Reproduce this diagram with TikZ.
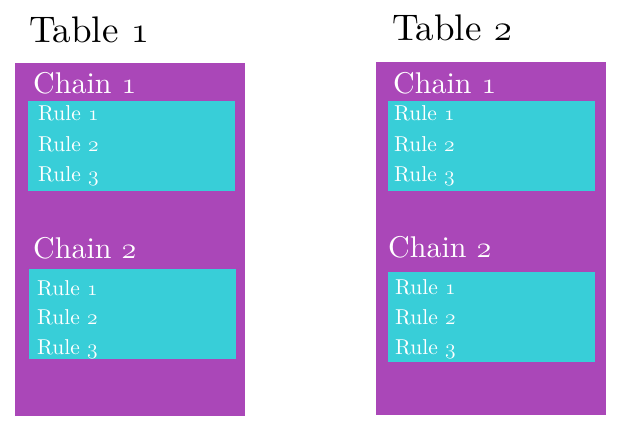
\documentclass[tikz,border=0pt]{standalone}
\usepackage{fix-cm}
\usepackage{fontspec}
\setmainfont{lmroman10-regular.otf}
\usepackage{xcolor}
\usepackage{tikz}
\usetikzlibrary{positioning}
\definecolor{tblpurple}{HTML}{AA47B8}
\definecolor{rulecyan}{HTML}{38CED8}
\newcommand{\osn}[1]{{\usefont{OML}{cmm}{m}{it}#1}}

\begin{document}
\begin{tikzpicture}[x=1pt, y=-1pt,
    tbl box/.style={fill=tblpurple, anchor=north west, inner sep=0pt, minimum width=230pt, minimum height=353pt},
    rule box/.style={fill=rulecyan, anchor=north west, inner sep=0pt, minimum width=207pt, minimum height=90pt},
    tbl label/.style={anchor=base west, inner sep=0pt, font=\fontsize{37}{42}\selectfont},
    chain label/.style={anchor=base west, inner sep=0pt, text=white, font=\fontsize{30}{34}\selectfont},
    rule label/.style={anchor=base west, inner sep=0pt, text=white, font=\fontsize{21.5}{25}\selectfont}]
    \useasboundingbox (0,0) rectangle (624,428);

    % Table 1
    \node[tbl label] (t1) at (29,43) {Table \osn{1}};
    \node[tbl box] (tbl1) at (15,63) {};
    \node[chain label] (t1c1) at (33,94) {Chain \osn{1}};
    \node[rule box] (t1c1box) at (28,101) {};
    \node[rule label] (t1c1r1) at (38,121) {Rule \osn{1}};
    \node[rule label] (t1c1r2) at (38,151) {Rule \osn{2}};
    \node[rule label] (t1c1r3) at (38,181) {Rule \osn{3}};
    \node[chain label] (t1c2) at (33,258) {Chain \osn{2}};
    \node[rule box] (t1c2box) at (29,269) {};
    \node[rule label] (t1c2r1) at (37,295) {Rule \osn{1}};
    \node[rule label] (t1c2r2) at (37,324) {Rule \osn{2}};
    \node[rule label] (t1c2r3) at (37,354) {Rule \osn{3}};

    % Table 2
    \node[tbl label] (t2) at (392,41) {Table \osn{2}};
    \node[tbl box] (tbl2) at (376,62) {};
    \node[chain label] (t2c1) at (393,94) {Chain \osn{1}};
    \node[rule box] (t2c1box) at (388,101) {};
    \node[rule label] (t2c1r1) at (394,121) {Rule \osn{1}};
    \node[rule label] (t2c1r2) at (394,151) {Rule \osn{2}};
    \node[rule label] (t2c1r3) at (394,181) {Rule \osn{3}};
    \node[chain label] (t2c2) at (388,257) {Chain \osn{2}};
    \node[rule box] (t2c2box) at (388,272) {};
    \node[rule label] (t2c2r1) at (395,294) {Rule \osn{1}};
    \node[rule label] (t2c2r2) at (395,324) {Rule \osn{2}};
    \node[rule label] (t2c2r3) at (395,354) {Rule \osn{3}};
\end{tikzpicture}
\end{document}
